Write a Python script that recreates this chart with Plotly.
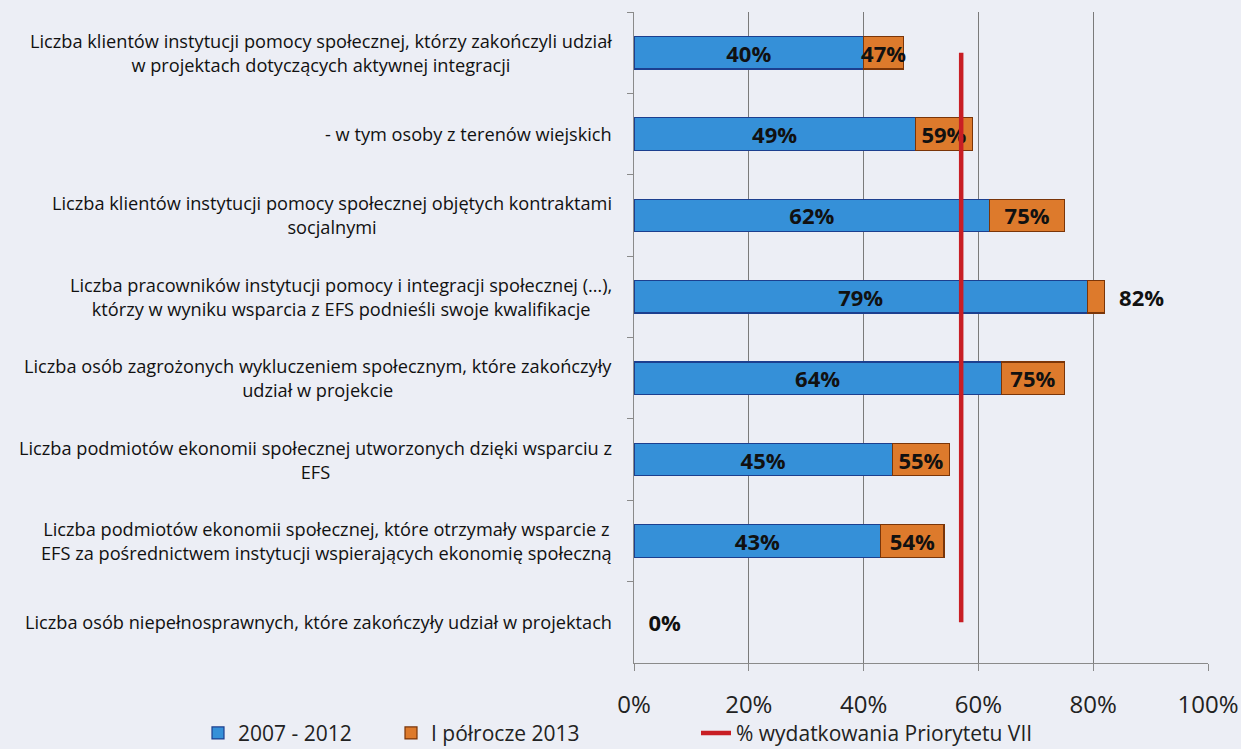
import plotly.graph_objects as go

categories = [
    "Liczba klientów instytucji pomocy społecznej, którzy zakończyli udział<br>w projektach dotyczących aktywnej integracji",
    "- w tym osoby z terenów wiejskich",
    "Liczba klientów instytucji pomocy społecznej objętych kontraktami<br>socjalnymi",
    "Liczba pracowników instytucji pomocy i integracji społecznej (…),<br>którzy w wyniku wsparcia z EFS podnieśli swoje kwalifikacje",
    "Liczba osób zagrożonych wykluczeniem społecznym, które zakończyły<br>udział w projekcie",
    "Liczba podmiotów ekonomii społecznej utworzonych dzięki wsparciu z<br>EFS",
    "Liczba podmiotów ekonomii społecznej, które otrzymały wsparcie z<br>EFS za pośrednictwem instytucji wspierających ekonomię społeczną",
    "Liczba osób niepełnosprawnych, które zakończyły udział w projektach",
]
share_2007_2012 = [40, 49, 62, 79, 64, 45, 43, 0]
share_total_h1_2013 = [47, 59, 75, 82, 75, 55, 54, 0]
spending_priority_vii = [57, 57, 57, 57, 57, 57, 57, 57]
x_ticks = [0, 20, 40, 60, 80, 100]

series_names = ["2007 - 2012", "I półrocze 2013", "% wydatkowania Priorytetu VII"]

increment = [t - b for t, b in zip(share_total_h1_2013, share_2007_2012)]

FONT = "Open Sans"
BG = "#eceef5"
BLUE = "#3590d8"
BLUE_EDGE = "#1c3f8f"
ORANGE = "#dd7a2c"
ORANGE_EDGE = "#7a3508"
RED = "#c81e24"

blue_text = [f"{v}%" if v > 0 else "" for v in share_2007_2012]
orange_pos = ["outside" if inc < 5 else "inside" for inc in increment]
orange_text = [("\u00a0\u00a0" if p == "outside" else "") + f"{t}%"
               for t, p in zip(share_total_h1_2013, orange_pos)]
blue_edge_w = [1.2 if v > 0 else 0 for v in share_2007_2012]
orange_edge_w = [1.2 if v > 0 else 0 for v in increment]

label_font = dict(family=FONT, size=22, color="#111111", weight="bold")

fig = go.Figure()
fig.add_trace(go.Bar(
    y=categories, x=share_2007_2012, orientation="h", name=series_names[0],
    marker=dict(color=BLUE, line=dict(color=BLUE_EDGE, width=blue_edge_w)),
    width=0.4,
    text=blue_text, textposition="inside", insidetextanchor="middle",
    textangle=0, constraintext="none", textfont=label_font,
    hoverinfo="skip", legend="legend",
))
fig.add_trace(go.Bar(
    y=categories, x=increment, orientation="h", name=series_names[1],
    marker=dict(color=ORANGE, line=dict(color=ORANGE_EDGE, width=orange_edge_w)),
    width=0.4,
    text=orange_text, textposition=orange_pos, insidetextanchor="middle",
    textangle=0, constraintext="none", cliponaxis=False, textfont=label_font,
    hoverinfo="skip", legend="legend2",
))
fig.add_trace(go.Scatter(
    y=categories, x=spending_priority_vii, mode="lines", name=series_names[2],
    line=dict(color=RED, width=4.5),
    hoverinfo="skip", legend="legend3",
))

for c in categories:
    fig.add_annotation(
        xref="paper", yref="y", x=0, y=c, xanchor="right", xshift=-20,
        text=c, showarrow=False, align="center",
        font=dict(family=FONT, size=18.2, color="#111111"),
    )

PLOT_L, PLOT_W = 634, 574
def px_to_paper(px):
    return (px - PLOT_L) / PLOT_W

legend_common = dict(
    orientation="h", yanchor="middle", y=-0.108, xanchor="left",
    font=dict(family=FONT, size=21, color="#222222"),
    bgcolor="rgba(0,0,0,0)",
)

fig.update_layout(
    width=1241, height=749,
    barmode="stack",
    paper_bgcolor=BG, plot_bgcolor=BG,
    margin=dict(l=634, r=33, t=12, b=86, autoexpand=False),
    font=dict(family=FONT, size=20, color="#222222"),
    showlegend=True,
    legend=dict(legend_common, x=px_to_paper(198)),
    legend2=dict(legend_common, x=px_to_paper(391)),
    legend3=dict(legend_common, x=px_to_paper(696)),
    xaxis=dict(
        range=[0, 100], tickvals=x_ticks, ticktext=[f"{v}%" for v in x_ticks],
        showgrid=True, gridcolor="#7a7a7a", gridwidth=1,
        showline=True, linecolor="#8a8a8a", linewidth=1,
        ticks="outside", ticklen=7, tickcolor="#8a8a8a",
        ticklabelstandoff=13, zeroline=False,
        tickfont=dict(family=FONT, size=24, color="#222222"),
    ),
    yaxis=dict(
        autorange="reversed", showticklabels=False,
        showline=True, linecolor="#8a8a8a", linewidth=1,
        ticks="outside", ticklen=6, tickcolor="#8a8a8a", tickson="boundaries",
        showgrid=False,
    ),
)

fig.write_html(
    "out.html",
    config={"displayModeBar": False},
    post_script=f"document.body.style.margin='0px'; document.body.style.background='{BG}';",
)
